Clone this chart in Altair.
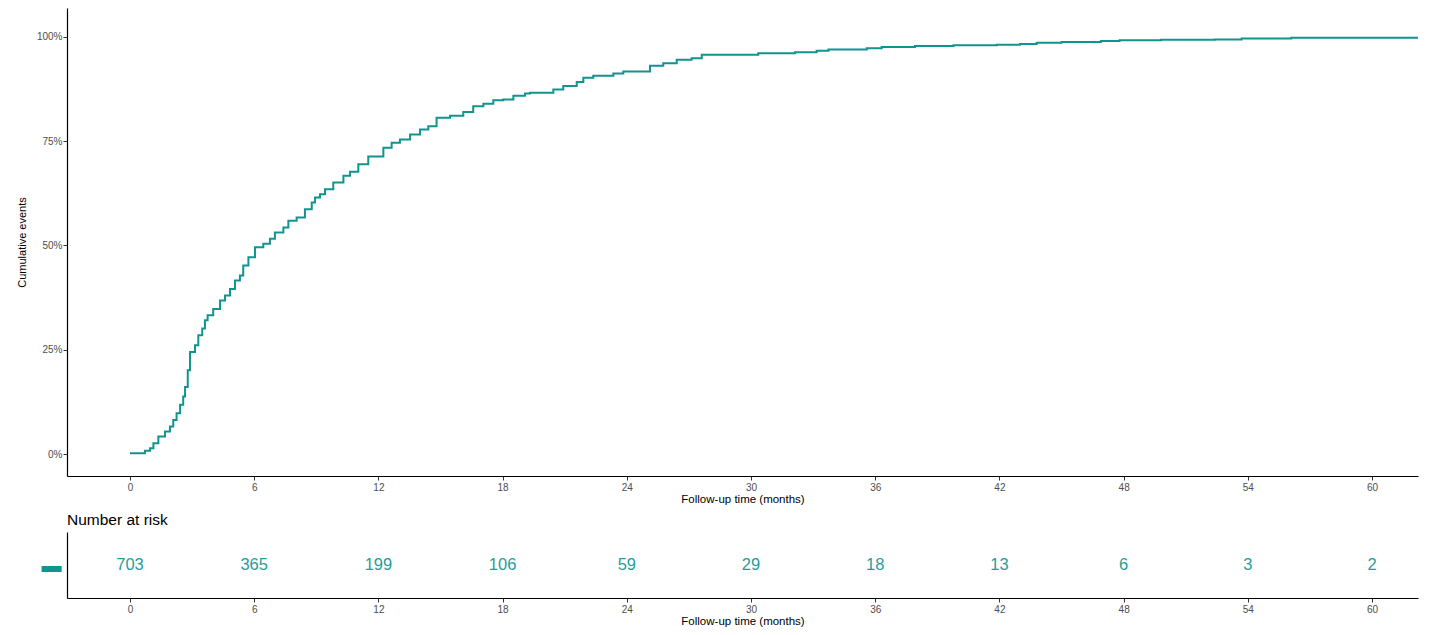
import altair as alt
import pandas as pd

# Cumulative events curve (months, proportion)
times = [0, 0.72, 0.97, 1.13, 1.37, 1.69, 1.93, 2.09, 2.25, 2.42, 2.57, 2.66, 2.79, 2.90,
         3.14, 3.30, 3.49, 3.62, 3.75, 4.02, 4.35, 4.59, 4.83, 5.07, 5.31, 5.47, 5.72,
         6.04, 6.44, 6.76, 7.0, 7.41, 7.65, 8.05, 8.45, 8.78, 8.94, 9.18, 9.42, 9.82,
         10.31, 10.63, 11.03, 11.51, 12.24, 12.64, 13.04, 13.53, 14.01, 14.41, 14.81,
         15.46, 16.10, 16.58, 17.07, 17.55, 18.03, 18.52, 19.08, 19.32, 20.45, 20.93,
         21.58, 21.90, 22.38, 23.35, 23.83, 25.12, 25.76, 26.41, 27.13, 27.62, 30.35,
         32.13, 33.17, 33.74, 35.59, 36.31, 37.92, 39.78, 41.87, 43.0, 43.8, 45.0, 46.9,
         47.8, 49.8, 52.4, 53.7, 56.1, 62.22]
cum_events = [0.002, 0.008, 0.014, 0.026, 0.042, 0.054, 0.066, 0.082, 0.098, 0.118, 0.138,
              0.161, 0.201, 0.245, 0.261, 0.285, 0.301, 0.321, 0.333, 0.348, 0.368, 0.380,
              0.396, 0.416, 0.428, 0.452, 0.472, 0.496, 0.504, 0.516, 0.531, 0.543, 0.559,
              0.567, 0.587, 0.603, 0.615, 0.623, 0.635, 0.651, 0.667, 0.677, 0.695, 0.713,
              0.734, 0.746, 0.754, 0.766, 0.778, 0.786, 0.806, 0.811, 0.820, 0.834, 0.840,
              0.848, 0.850, 0.859, 0.864, 0.866, 0.874, 0.882, 0.892, 0.902, 0.907, 0.912,
              0.917, 0.931, 0.937, 0.945, 0.949, 0.957, 0.961, 0.963, 0.967, 0.970, 0.973,
              0.976, 0.978, 0.980, 0.981, 0.983, 0.986, 0.988, 0.990, 0.992, 0.993, 0.994,
              0.996, 0.998, 0.998]

# Number at risk table
risk_times = [0, 6, 12, 18, 24, 30, 36, 42, 48, 54, 60]
risk_n = [703, 365, 199, 106, 59, 29, 18, 13, 6, 3, 2]
strata = ["All"]

x_ticks = [0, 6, 12, 18, 24, 30, 36, 42, 48, 54, 60]
y_ticks = [0, 0.25, 0.5, 0.75, 1.0]

TEAL = "#10948F"
TEAL_TEXT = "#1F9E98"
FONT = "Liberation Sans"
X_DOMAIN = [-3.043, 62.22]
PAD = {"left": 8, "top": 0, "right": 0, "bottom": 0}

curve = pd.DataFrame({"time": times, "cum": cum_events})
risk = pd.DataFrame({"time": risk_times, "n": risk_n, "strata": strata * len(risk_n)})

x_axis = dict(values=x_ticks, title="Follow-up time (months)", grid=False,
              labelFontSize=10, labelColor="#4D4D4D", titleFontSize=11.5,
              titleFontWeight="normal", titleColor="#000000", tickSize=4,
              tickColor="#333333", domainColor="#000000", domainWidth=1.2,
              labelPadding=2, titlePadding=1, labelFont=FONT, titleFont=FONT)

top = alt.Chart(curve).mark_line(interpolate="step-after", color=TEAL, strokeWidth=2).encode(
    x=alt.X("time:Q", scale=alt.Scale(domain=X_DOMAIN, nice=False, zero=False),
            axis=alt.Axis(**x_axis)),
    y=alt.Y("cum:Q", scale=alt.Scale(domain=[-0.0525, 1.0692], nice=False, zero=False),
            axis=alt.Axis(values=y_ticks, format=".0%", title="Cumulative events", grid=False,
                          labelFontSize=10, labelColor="#4D4D4D", titleFontSize=11,
                          titleFontWeight="normal", titleColor="#000000", tickSize=4,
                          tickColor="#333333", domainColor="#000000", domainWidth=1.2,
                          labelPadding=1, minExtent=30, maxExtent=30, titlePadding=10,
                          labelFont=FONT, titleFont=FONT)),
).properties(width=1351, height=468)

bottom = alt.Chart(risk).mark_text(color=TEAL_TEXT, fontSize=16.5, font=FONT).encode(
    x=alt.X("time:Q", scale=alt.Scale(domain=X_DOMAIN, nice=False, zero=False),
            axis=alt.Axis(**x_axis)),
    y=alt.Y("strata:N", title=None,
            axis=alt.Axis(labelExpr="'▬'", labelColor=TEAL, labelFontSize=20, ticks=False,
                          domainColor="#000000", domainWidth=1.2, labelPadding=6,
                          minExtent=30, maxExtent=30)),
    text="n:Q",
).properties(
    width=1351, height=66,
    title=alt.TitleParams("Number at risk", anchor="start", frame="group", fontSize=15.5,
                          fontWeight="normal", font=FONT, color="#000000", offset=4),
)

chart = alt.vconcat(top, bottom, spacing=7, padding=PAD).configure(
    font=FONT, padding=PAD
).configure_view(stroke=None)

chart.save("out.html", embed_options={"renderer": "svg", "actions": False})
